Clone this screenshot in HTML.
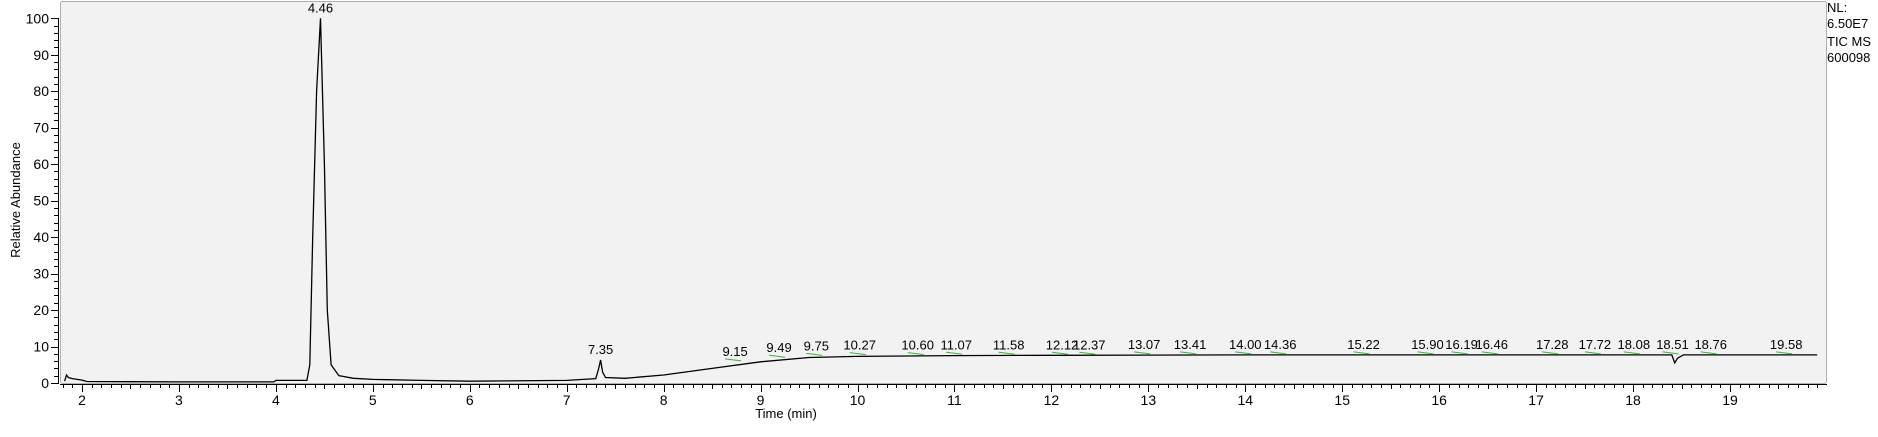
<!DOCTYPE html>
<html><head><meta charset="utf-8"><style>
body{margin:0;background:#fff;width:1878px;height:432px;overflow:hidden;font-family:"Liberation Sans",Arial,sans-serif}
svg text{font-family:"Liberation Sans",Arial,sans-serif}
</style></head><body>
<svg id="chart" width="1878" height="432" xmlns="http://www.w3.org/2000/svg">
<rect x="60.5" y="1.5" width="1766" height="382" fill="#f2f2f2" stroke="#b0b0b0" stroke-width="1" rx="2"/>
<g id="axes"></g>
<g id="trace"></g>
<g id="labels"></g>
<text transform="translate(20,200) rotate(-90)" text-anchor="middle" font-size="13" fill="#000">Relative Abundance</text>
<text x="786" y="418" text-anchor="middle" font-size="13" fill="#000">Time (min)</text>
<g font-size="13" fill="#000">
<text x="1827" y="12">NL:</text>
<text x="1827" y="28">6.50E7</text>
<text x="1827" y="46">TIC  MS</text>
<text x="1827" y="62">600098</text>
</g>
</svg>
<script>
const traceTimes=[1.82,1.84,1.86,1.9,2.0,2.05,3.0,3.98,4.0,4.32,4.35,4.38,4.42,4.46,4.5,4.53,4.57,4.65,4.8,5.0,5.5,6.0,7.0,7.3,7.33,7.35,7.37,7.4,7.6,8.0,8.5,9.0,9.5,10,11,12,14,16,18.4,18.43,18.46,18.52,19.9];
const traceValues=[0.5,2.2,1.5,1.2,0.8,0.4,0.3,0.3,0.7,0.7,5,40,80,100,60,20,5,2,1.3,1.0,0.7,0.5,0.7,1.2,4,6.3,3,1.5,1.3,2.2,4,5.8,7,7.3,7.5,7.6,7.7,7.7,7.7,5.5,6.8,7.7,7.7];
const peakTimes=[4.46,7.35,9.15,9.49,9.75,10.27,10.60,11.07,11.58,12.12,12.37,13.07,13.41,14.00,14.36,15.22,15.90,16.19,16.46,17.28,17.72,18.08,18.51,18.76,19.58];
const peakValues=[100,6.3,5.8,6.8,7.3,7.5,7.5,7.6,7.6,7.6,7.6,7.7,7.7,7.7,7.7,7.7,7.7,7.7,7.7,7.7,7.7,7.7,7.7,7.7,7.7];
const labelShift=[0,0,-40,-29,-17,-24,2,-5,-2,-1,2,-11,2,0,0,0,-2,4,8,-11,-11,-7,-10,4,0];
const xTicks=[2,3,4,5,6,7,8,9,10,11,12,13,14,15,16,17,18,19];
const yTicks=[0,10,20,30,40,50,60,70,80,90,100];

const NS="http://www.w3.org/2000/svg";
function X(t){return 82+(t-2)*96.94;}
function Y(v){return 383-v*3.647;}
function mk(tag,attrs,parent){const e=document.createElementNS(NS,tag);for(const k in attrs)e.setAttribute(k,attrs[k]);parent.appendChild(e);return e;}
const axes=document.getElementById('axes');
const xl=mk('line',{x1:60,y1:384.5,x2:1827,y2:384.5,stroke:'#000'},axes);


const yl=mk('line',{x1:58.5,y1:18,x2:58.5,y2:384,stroke:'#000'},axes);


for(let i=18;i<=199;i++){const t=i/10;const x=Math.round(X(t))+0.5;if(x>1826)break;
 const major=(i%10===0);const mid=(i%5===0);
 mk('line',{x1:x,y1:384,x2:x,y2:384+(major?8:(mid?5:4)),stroke:'#000'},axes);}
xTicks.forEach(t=>{const tx=mk('text',{x:X(t),y:405,'text-anchor':'middle','font-size':'14',fill:'#000'},axes);tx.textContent=t;
 
 });
for(let v=0;v<=100;v+=2){const y=Math.round(Y(v))+0.5;mk('line',{x1:58,x2:v%10===0?51:54,y1:y,y2:y,stroke:'#000'},axes);}
yTicks.forEach(v=>{const tx=mk('text',{x:49,y:Y(v)+5,'text-anchor':'end','font-size':'14',fill:'#000'},axes);tx.textContent=v;
 
 });
const tr=document.getElementById('trace');
let d='';traceTimes.forEach((t,i)=>{d+=(i?'L':'M')+X(t).toFixed(1)+' '+Y(traceValues[i]).toFixed(1);});
const p=mk('path',{d:d,fill:'none',stroke:'#000','stroke-width':1.3},tr);


const lg=document.getElementById('labels');
peakTimes.forEach((t,i)=>{const x=X(t),y=Y(peakValues[i]);
 const tx=mk('text',{x:x+labelShift[i],y:y-6,'text-anchor':'middle','font-size':'13',fill:'#000'},lg);tx.textContent=t.toFixed(2);
 
 
 if(i>1){const g=mk('line',{x1:x+labelShift[i]-10,x2:x+labelShift[i]+6,y1:y-3,y2:y-1,stroke:'#3cb043','stroke-width':1},lg);
 
 }
});
</script>
</body></html>
